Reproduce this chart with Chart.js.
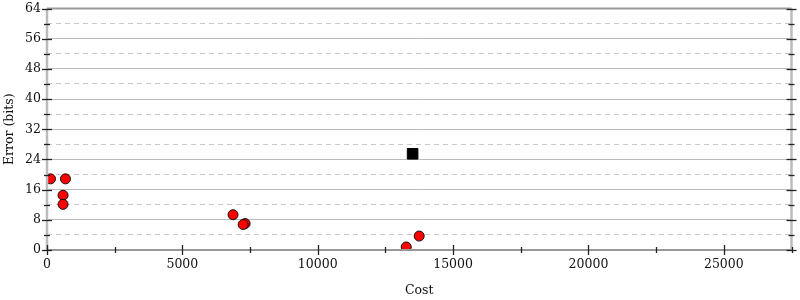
<!DOCTYPE html>
<html>
<head>
<meta charset="utf-8">
<script src="https://cdn.jsdelivr.net/npm/chart.js@4"></script>
<style>
html,body{margin:0;padding:0;background:#fff;}
#wrap{width:800px;height:300px;}
</style>
</head>
<body>
<div id="wrap"><canvas id="c" width="800" height="300"></canvas></div>
<script>
// Data
const circleCost  = [129, 682, 593, 593, 6872, 7318, 7245, 13269, 13748];
const circleError = [18.85, 18.85, 14.5, 12.1, 9.35, 7.0, 6.75, 0.8, 3.7];
const squareCost  = [13505];
const squareError = [25.5];
const xTickStep = 2500, xLabelStep = 5000, xMax = 27500;
const yTickStep = 4, yLabelStep = 8, yMax = 64;
const xTitle = 'Cost';
const yTitle = 'Error (bits)';

const FONT = {family: '"DejaVu Serif", serif', size: 12.5};

const axesPlugin = {
  id: 'axesPlugin',
  afterDraw(chart) {
    const ctx = chart.ctx, a = chart.chartArea;
    const xs = chart.scales.x, ys = chart.scales.y;
    ctx.save();
    ctx.strokeStyle = '#999'; ctx.lineWidth = 2;
    ctx.beginPath(); ctx.moveTo(a.left, ys.getPixelForValue(yMax)); ctx.lineTo(a.right, ys.getPixelForValue(yMax)); ctx.stroke();
    ctx.strokeStyle = '#bbb'; ctx.lineWidth = 2.5;
    ctx.beginPath(); ctx.moveTo(a.left, a.top); ctx.lineTo(a.left, a.bottom); ctx.stroke();
    ctx.beginPath(); ctx.moveTo(a.right, a.top); ctx.lineTo(a.right, a.bottom); ctx.stroke();
    ctx.strokeStyle = '#999'; ctx.lineWidth = 2;
    ctx.beginPath(); ctx.moveTo(a.left, a.bottom); ctx.lineTo(a.right, a.bottom); ctx.stroke();
    ctx.strokeStyle = '#222'; ctx.lineWidth = 1.3;
    ys.ticks.forEach(t => {
      const y = Math.round(ys.getPixelForValue(t.value)) + 0.5;
      const len = (t.value % yLabelStep === 0) ? 5 : 3;
      [a.left, a.right].forEach(x => {
        ctx.beginPath(); ctx.moveTo(x - len, y); ctx.lineTo(x + len, y); ctx.stroke();
      });
    });
    xs.ticks.forEach(t => {
      const x = Math.round(xs.getPixelForValue(t.value)) + 0.5;
      const len = (t.value % xLabelStep === 0) ? 5 : 3;
      ctx.beginPath(); ctx.moveTo(x, a.bottom - len); ctx.lineTo(x, a.bottom + len); ctx.stroke();
    });
    ctx.restore();
  }
};

new Chart(document.getElementById('c'), {
  type: 'scatter',
  data: {
    datasets: [
      {
        data: circleCost.map((c, i) => ({x: c, y: circleError[i]})),
        backgroundColor: '#ff0000',
        borderColor: '#111',
        borderWidth: 1,
        pointRadius: 5,
        pointHoverRadius: 5,
        pointStyle: 'circle',
        clip: 0
      },
      {
        data: squareCost.map((c, i) => ({x: c, y: squareError[i]})),
        backgroundColor: '#000',
        borderColor: '#000',
        borderWidth: 1,
        pointRadius: 7.5,
        pointHoverRadius: 7.5,
        pointStyle: 'rect'
      }
    ]
  },
  options: {
    responsive: false,
    animation: false,
    events: [],
    layout: {padding: {top: 0, right: 6, left: 0, bottom: 0}},
    plugins: {legend: {display: false}, tooltip: {enabled: false}},
    scales: {
      x: {
        type: 'linear', min: 0, max: xMax,
        afterFit: s => { s.height = 50; },
        ticks: {
          stepSize: xTickStep, autoSkip: false, maxRotation: 0,
          padding: 7, color: '#111', font: FONT,
          callback: v => (v % xLabelStep === 0 ? String(v) : '')
        },
        grid: {drawOnChartArea: false, drawTicks: false},
        border: {display: false},
        title: {display: true, text: xTitle, color: '#111', font: FONT, padding: {top: 0, bottom: 2}}
      },
      y: {
        type: 'linear', min: 0, max: yMax,
        afterFit: s => { s.width = 47; s.paddingTop = 7; },
        ticks: {
          stepSize: yTickStep, autoSkip: false,
          padding: 6, color: '#111', font: FONT,
          callback: v => (v % yLabelStep === 0 ? String(v) : '')
        },
        grid: {
          drawTicks: false,
          color: c => (c.tick && c.tick.value % yLabelStep === 0) ? '#bbb' : '#c8c8c8',
          lineWidth: 1
        },
        border: {
          display: false,
          dash: c => (c.tick && c.tick.value % yLabelStep !== 0) ? [5, 4] : []
        },
        title: {display: true, text: yTitle, color: '#111', font: FONT, padding: {top: 2, bottom: 0}}
      }
    }
  },
  plugins: [axesPlugin]
});
</script>
</body>
</html>
